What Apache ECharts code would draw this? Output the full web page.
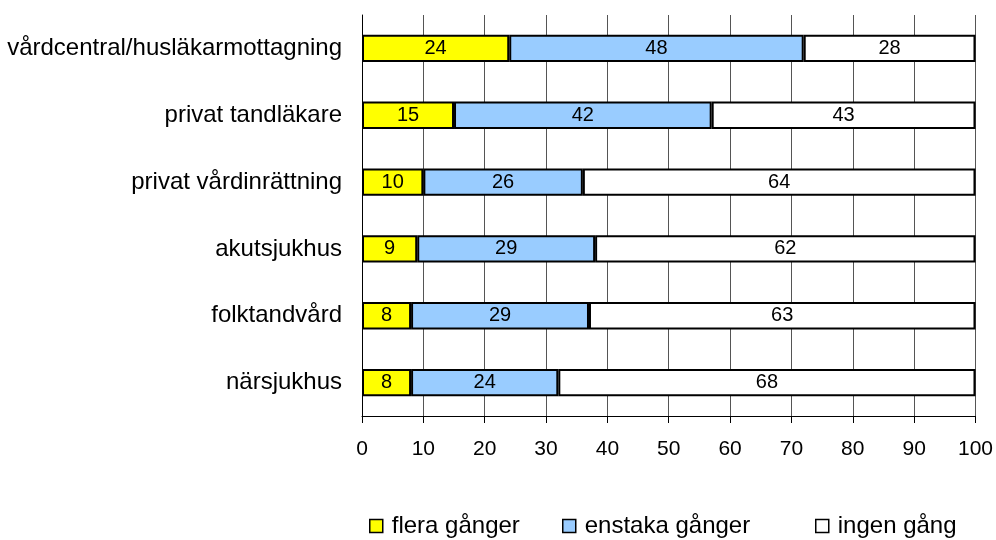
<!DOCTYPE html>
<html><head><meta charset="utf-8">
<script src="https://cdn.jsdelivr.net/npm/echarts@6/dist/echarts.min.js"></script>
<style>html,body{margin:0;padding:0;background:#fff}#c{width:996px;height:540px}</style>
</head><body><div id="c"></div>
<script>
const categories = ['vårdcentral/husläkarmottagning','privat tandläkare','privat vårdinrättning','akutsjukhus','folktandvård','närsjukhus'];
const seriesNames = ['flera gånger','enstaka gånger','ingen gång'];
const flera = [24,15,10,9,8,8];
const enstaka = [48,42,26,29,29,24];
const ingen = [28,43,64,62,63,68];
const colors = ['#ffff00','#99ccff','#ffffff'];
const values = [flera, enstaka, ingen];
const FONT = 'Liberation Sans, Arial, sans-serif';

const chart = echarts.init(document.getElementById('c'), null, {renderer:'canvas'});
const series = seriesNames.map((n,i)=>({
  name:n, type:'bar', stack:'s', data:values[i], barWidth:'41%',
  itemStyle:{color:colors[i], borderColor:'#000', borderWidth:2},
  label:{show:true, position:'inside', color:'#000', fontSize:20, fontFamily:FONT},
  emphasis:{disabled:true}
}));
const legendLefts = [364, 557, 810];
chart.setOption({
  animation:false,
  grid:{left:362, right:20, top:15, bottom:124},
  xAxis:{type:'value', min:0, max:100, interval:10,
    axisLine:{show:true, lineStyle:{color:'#000', width:1}},
    axisTick:{show:true, length:7, lineStyle:{color:'#000'}},
    axisLabel:{color:'#000', fontSize:21, fontFamily:FONT, margin:23},
    splitLine:{show:true, lineStyle:{color:'#555', width:1}}},
  yAxis:{type:'category', data:categories, inverse:true,
    axisLine:{show:true, lineStyle:{color:'#000', width:1}},
    axisTick:{show:false},
    axisLabel:{color:'#000', fontSize:24, fontFamily:FONT, margin:20}},
  legend: seriesNames.map((n,i)=>({
    data:[{name:n, icon:'rect', itemStyle:{color:colors[i], borderColor:'#000', borderWidth:1.5}}],
    left:legendLefts[i], top:509, itemWidth:13, itemHeight:13, itemGap:0,
    textStyle:{color:'#000', fontSize:24, fontFamily:FONT, padding:[0,0,0,4]},
    selectedMode:false
  })),
  series
});
</script></body></html>
